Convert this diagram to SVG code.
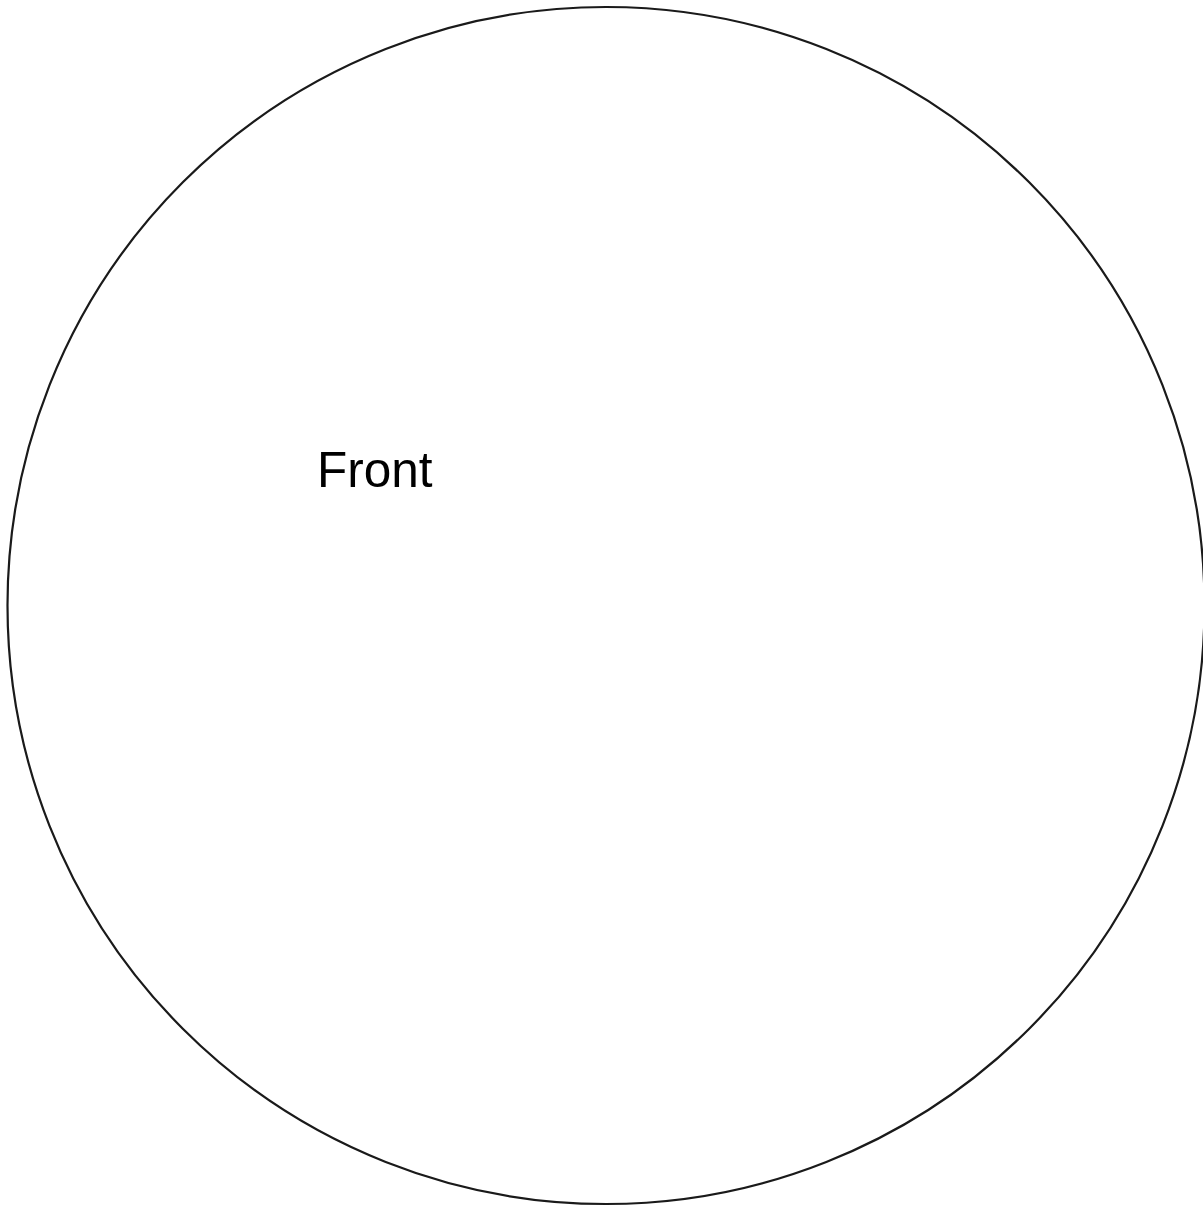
<svg xmlns="http://www.w3.org/2000/svg" width="1203" height="1208" viewBox="0 0 1203 1208">
<style>
.shape{fill:#ffffff;stroke:#1a1a1a;stroke-width:2.2}
.label{font-family:"Liberation Sans",Arial,sans-serif;font-size:49.5px;fill:#000000}
</style>
<rect width="1203" height="1208" fill="#ffffff"/>
<g id="front">
<circle class="shape" cx="606" cy="605.5" r="598.5"/>
<text class="label" x="317" y="487">Front</text>
</g>
<g id="connectors"/>
</svg>
